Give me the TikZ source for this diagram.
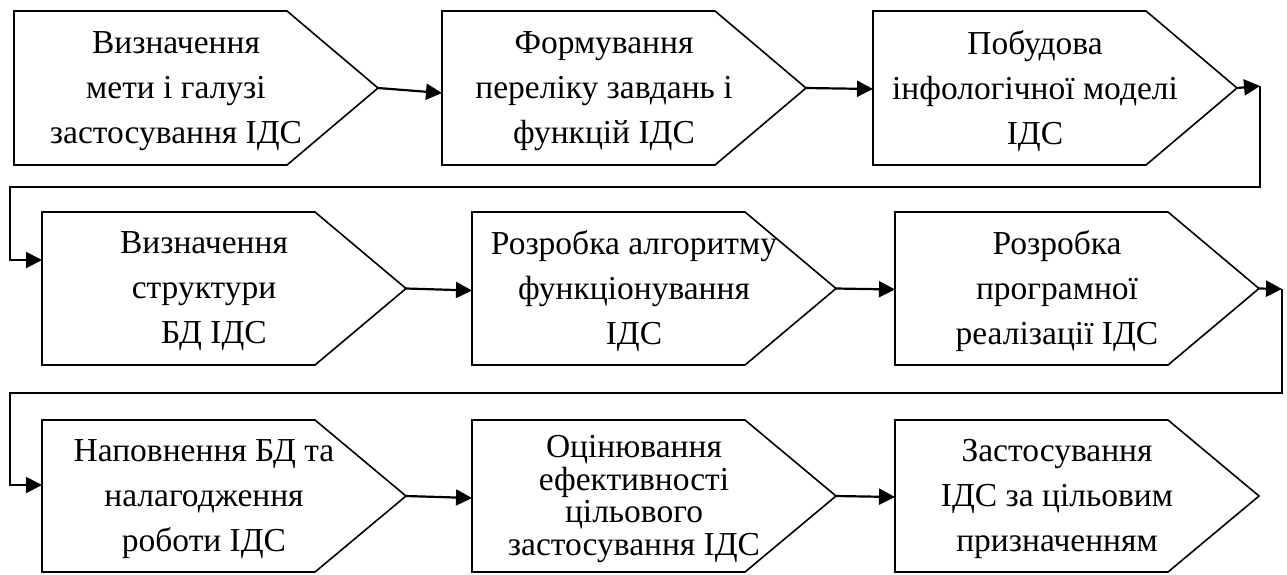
\documentclass[tikz,border=0pt]{standalone}
\usepackage{fontspec}
\setmainfont{Liberation Serif}
\usetikzlibrary{arrows.meta,calc}
\tikzset{
  boxline/.style={draw=black,line width=1.6pt,line join=miter,fill=white},
  txt/.style={align=center,inner sep=0pt,font=\fontsize{33.5}{45}\selectfont},
  tighttxt/.style={font=\fontsize{33.5}{32.5}\selectfont},
  arr/.style={draw=black,line width=2.2pt,-{Triangle[length=16pt,width=16pt]}},
}
% #1 extra node options, #2 name, #3 left, #4 top, #5 bottom, #6 text
\newcommand\pentabox[6][]{%
  \path[boxline] (#3,#4) -- ({#3+273},#4) -- ({#3+364},{(#4+#5)/2}) -- ({#3+273},#5) -- (#3,#5) -- cycle;
  \coordinate (#2-tip) at ({#3+364},{(#4+#5)/2});
  \coordinate (#2-in) at (#3,{(#4+#5)/2});
  \node[txt,#1] (#2) at ({#3+162},{(#4+#5)/2+3}) {#6};
}
\begin{document}
\begin{tikzpicture}[x=1pt,y=-1pt]
\useasboundingbox (0,0) rectangle (1287,574);
% row 1
\pentabox{b1}{14}{11}{165}{Визначення\\мети і галузі\\застосування ІДС}
\pentabox{b2}{442}{11}{165}{Формування\\переліку завдань і\\функцій ІДС}
\pentabox{b3}{873}{11}{165}{Побудова\\інфологічної моделі\\ІДС}
% row 2
\pentabox{b4}{42}{212}{365}{Визначення\\структури\\\hspace*{20pt}БД ІДС}
\pentabox{b5}{472}{212}{365}{Розробка алгоритму\\функціонування\\ІДС}
\pentabox{b6}{895}{212}{365}{Розробка\\програмної\\реалізації ІДС}
% row 3
\pentabox{b7}{42}{420}{572}{Наповнення БД та\\налагодження\\роботи ІДС}
\pentabox[tighttxt]{b8}{472}{420}{572}{Оцінювання\\ефективності\\цільового\\застосування ІДС}
\pentabox{b9}{895}{420}{572}{Застосування\\ІДС за цільовим\\призначенням}
% connectors row 1
\draw[arr] (b1-tip) -- ([yshift=-5pt]b2-in);
\draw[arr] (b2-tip) -- ([yshift=-1pt]b3-in);
% wrap 1
\coordinate (r1) at (1260,86);
\coordinate (r1b) at (1260,187);
\coordinate (l1) at (10,187);
\coordinate (l1b) at (10,260);
\draw[arr] (b3-tip) -- (r1);
\draw[arr,line width=2pt] (r1) -- (r1b) -- (l1) -- (l1b) -- (l1b -| b4-in);
% row 2
\draw[arr] (b4-tip) -- ([yshift=-2pt]b5-in);
\draw[arr] (b5-tip) -- ([yshift=-1pt]b6-in);
% wrap 2
\coordinate (r2) at (1282,289);
\coordinate (r2b) at (1282,393);
\coordinate (l2) at (10,393);
\coordinate (l2b) at (10,485);
\draw[arr] (b6-tip) -- (r2);
\draw[arr,line width=2pt] (r2) -- (r2b) -- (l2) -- (l2b) -- (l2b -| b7-in);
% row 3
\draw[arr] (b7-tip) -- ([yshift=-2pt]b8-in);
\draw[arr] (b8-tip) -- ([yshift=-1pt]b9-in);
\end{tikzpicture}
\end{document}
